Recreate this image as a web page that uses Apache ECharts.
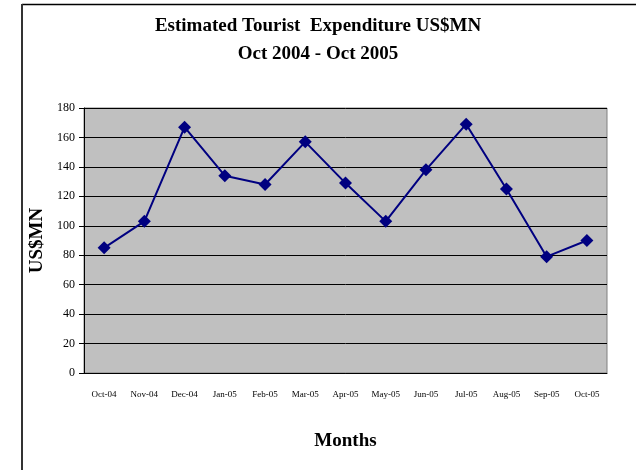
<!DOCTYPE html>
<html>
<head>
<meta charset="utf-8">
<script src="https://cdn.jsdelivr.net/npm/echarts@6/dist/echarts.min.js"></script>
<style>
  html, body { margin: 0; padding: 0; background: #fff; }
  #main { width: 636px; height: 470px; }
</style>
</head>
<body>
<div id="main"></div>
<script>
// 月份 / 数值
var months = ['Oct-04', 'Nov-04', 'Dec-04', 'Jan-05', 'Feb-05', 'Mar-05', 'Apr-05',
  'May-05', 'Jun-05', 'Jul-05', 'Aug-05', 'Sep-05', 'Oct-05']
var spend = [85, 103, 167, 134, 128, 157, 129, 103, 138, 169, 125, 79, 90]
var yTicks = { min: 0, max: 180, step: 20 }

var font = 'Liberation Serif'
var myChart = echarts.init(document.getElementById('main'))

var option = {
  backgroundColor: '#fff',
  animation: false,
  title: {
    text: 'Estimated Tourist  Expenditure US$MN\nOct 2004 - Oct 2005',
    left: 'center',
    top: 7,
    textStyle: {
      fontFamily: font,
      fontWeight: 'bold',
      fontSize: 19,
      lineHeight: 28,
      color: '#000'
    }
  },
  // 外框线
  graphic: [
    { type: 'line', shape: { x1: 22, y1: 4.5, x2: 636, y2: 4.5 }, style: { stroke: '#000', lineWidth: 1.5 } },
    { type: 'line', shape: { x1: 22, y1: 4, x2: 22, y2: 470 }, style: { stroke: '#333', lineWidth: 2 } }
  ],
  grid: {
    left: 84,
    top: 108,
    width: 523,
    height: 265,
    show: true,
    backgroundColor: '#c0c0c0',
    borderColor: '#808080',
    borderWidth: 1
  },
  xAxis: {
    type: 'category',
    data: months,
    name: 'Months',
    nameLocation: 'middle',
    nameGap: 59,
    nameTextStyle: { fontFamily: font, fontWeight: 'bold', fontSize: 19, color: '#000' },
    axisLine: { lineStyle: { color: '#000' } },
    axisTick: { length: 5, lineStyle: { color: '#000' } },
    axisLabel: { fontFamily: font, fontSize: 9, color: '#000', margin: 17, interval: 0 }
  },
  yAxis: {
    type: 'value',
    min: yTicks.min,
    max: yTicks.max,
    interval: yTicks.step,
    name: 'US$MN',
    nameLocation: 'middle',
    nameGap: 37,
    nameTextStyle: { fontFamily: font, fontWeight: 'bold', fontSize: 19, color: '#000' },
    axisLine: { show: true, lineStyle: { color: '#000' } },
    axisTick: { show: true, length: 5, lineStyle: { color: '#000' } },
    axisLabel: { fontFamily: font, fontSize: 12, color: '#000', margin: 9 },
    splitLine: { lineStyle: { color: '#000', width: 1 } }
  },
  series: [{
    type: 'line',
    data: spend,
    symbol: 'diamond',
    symbolSize: 13,
    lineStyle: { color: '#000080', width: 2 },
    itemStyle: { color: '#000080' }
  }]
}

myChart.setOption(option)
</script>
</body>
</html>
